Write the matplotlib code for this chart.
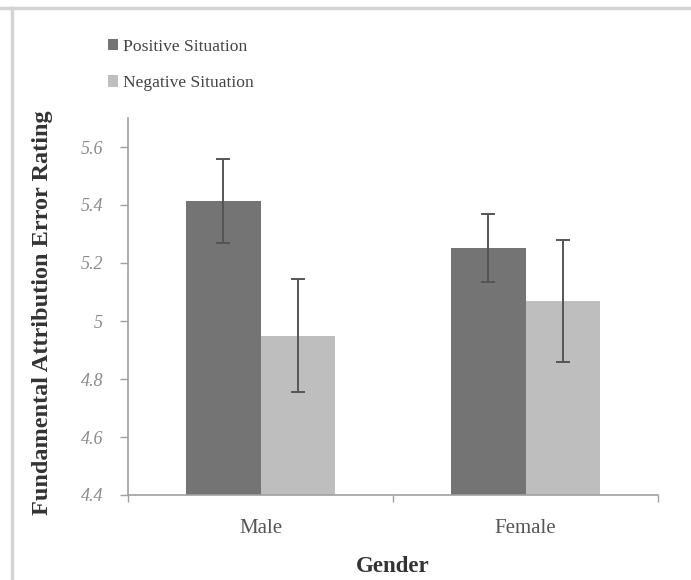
import numpy as np
import matplotlib
matplotlib.use("Agg")
import matplotlib.pyplot as plt
from matplotlib.patches import Patch
from matplotlib.lines import Line2D

# data
genders = ["Male", "Female"]
positive_mean = [5.415, 5.252]
positive_err = [0.145, 0.118]
negative_mean = [4.950, 5.070]
negative_err = [0.195, 0.210]
y_ticks = [4.4, 4.6, 4.8, 5.0, 5.2, 5.4, 5.6]
y_tick_labels = ["4.4", "4.6", "4.8", "5", "5.2", "5.4", "5.6"]

dark = "#747474"
light = "#bebebe"
axis_col = "#a0a0a0"
serif = ["Liberation Serif", "DejaVu Serif"]
plt.rcParams['font.family'] = serif

fig = plt.figure(figsize=(6.91, 5.80), dpi=100)
ax = fig.add_axes([128 / 691, 1 - 495 / 580, 530 / 691, 377 / 580])

x = np.arange(len(genders)) + 0.5
w = 0.283
err_kw = dict(ecolor="#555555", elinewidth=1.4, capsize=5, capthick=1.4)
ax.bar(x - w / 2, positive_mean, w, color=dark, yerr=positive_err,
       error_kw=err_kw, label="Positive Situation")
ax.bar(x + w / 2, negative_mean, w, color=light, yerr=negative_err,
       error_kw=err_kw, label="Negative Situation")

ax.set_xlim(0, 2)
ax.set_ylim(4.4, 5.7)

ax.set_yticks(y_ticks)
ax.set_yticklabels(y_tick_labels, fontsize=13, style="italic", color="#8a8a8a")
ax.tick_params(axis="y", length=6, width=1, color=axis_col, pad=12)

ax.set_xticks(x)
ax.set_xticklabels(genders, fontsize=15, color="#555555")
ax.tick_params(axis="x", which="major", length=0, pad=17)
ax.set_xticks([0, 1, 2], minor=True)
ax.tick_params(axis="x", which="minor", length=5, width=1, color=axis_col)

for s in ["top", "right"]:
    ax.spines[s].set_visible(False)
for s in ["left", "bottom"]:
    ax.spines[s].set_color(axis_col)
    ax.spines[s].set_linewidth(1.2)

ax.set_xlabel("Gender", fontsize=16.5, fontweight="bold", color="#333333", labelpad=13)
ax.set_ylabel("Fundamental Attribution Error Rating", fontsize=17.5,
              fontweight="bold", color="#333333")
ax.yaxis.set_label_coords(-0.141, 0.483)

handles = [Patch(facecolor=dark, edgecolor="none"), Patch(facecolor=light, edgecolor="none")]
fig.legend(handles, ["Positive Situation", "Negative Situation"],
           loc="upper left", bbox_to_anchor=(108 / 691, 1 - 39 / 580),
           frameon=False, fontsize=12.6, handlelength=0.6, handleheight=0.6,
           handletextpad=0.25, labelspacing=1.15, borderaxespad=0, borderpad=0,
           labelcolor="#444444")

# light frame lines seen at the top and left of the picture
fig.add_artist(Line2D([0, 1], [1 - 8 / 580] * 2, color="#d4d4d4", lw=2.5))
fig.add_artist(Line2D([12 / 691] * 2, [0, 1 - 8 / 580], color="#d4d4d4", lw=2.5))

fig.savefig("out.png", dpi=100)
